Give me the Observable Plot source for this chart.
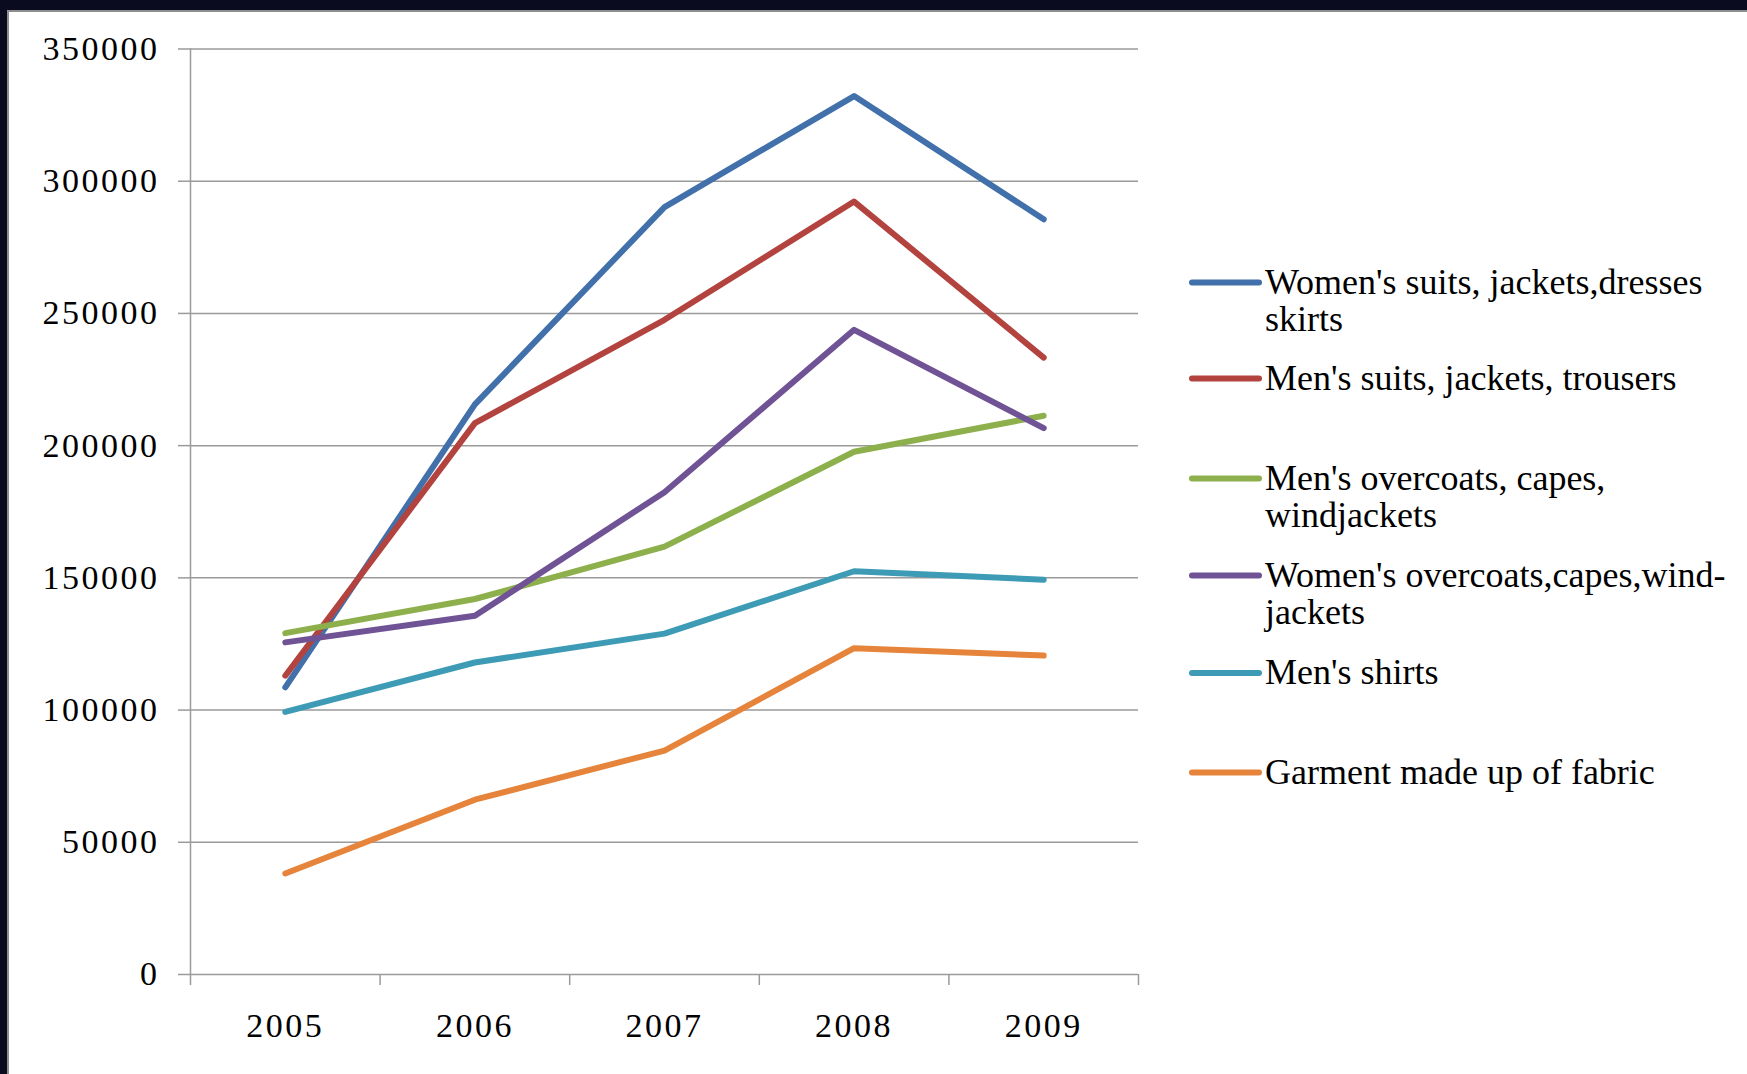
<!DOCTYPE html>
<html>
<head>
<meta charset="utf-8">
<script src="https://cdn.jsdelivr.net/npm/d3@7"></script>
<script src="https://cdn.jsdelivr.net/npm/@observablehq/plot@0.6"></script>
<style>
  html, body { margin: 0; padding: 0; }
  body {
    width: 1747px; height: 1074px; overflow: hidden; position: relative;
    background: #0b0b1f;
  }
  #panel {
    position: absolute; left: 7px; top: 10px; right: 0; bottom: 0;
    background: #fff;
    border-top: 2px solid #8e8e8e; border-left: 2px solid #8e8e8e;
  }
  #chart, #legend { position: absolute; left: 0; top: 0; }
  #chart svg text { letter-spacing: 2.5px; }
</style>
</head>
<body>
<div id="panel"></div>
<div id="chart"></div>
<svg id="legend" width="1747" height="1074"></svg>
<script>
// Years on the category axis
const years = [2005, 2006, 2007, 2008, 2009];

// Series names (legend wording, "\n" marks the wrap)
const seriesNames = [
  "Women's suits, jackets,dresses\nskirts",
  "Men's suits, jackets, trousers",
  "Men's overcoats, capes,\nwindjackets",
  "Women's overcoats,capes,wind-\njackets",
  "Men's shirts",
  "Garment made up of fabric"
];

// Values per series, one per year
const womensSuits     = [108600, 215600, 290200, 332200, 285600];
const mensSuits       = [113000, 208500, 247600, 292300, 233300];
const mensOvercoats   = [129100, 142000, 161800, 197700, 211300];
const womensOvercoats = [125600, 135700, 182400, 243800, 206600];
const mensShirts      = [ 99300, 118000, 128900, 152500, 149300];
const garments        = [ 38200,  66100,  84700, 123400, 120600];

const seriesValues = [womensSuits, mensSuits, mensOvercoats, womensOvercoats, mensShirts, garments];
const seriesColors = ["#4170ab", "#b3433f", "#8db04c", "#6f5395", "#3d9bb5", "#e5843a"];

// Value axis ticks
const yTicks = [0, 50000, 100000, 150000, 200000, 250000, 300000, 350000];

// Long-format rows for Plot
const rows = seriesNames.flatMap((name, i) =>
  years.map((year, j) => ({series: name, year, value: seriesValues[i][j]}))
);

// Category boundaries (tick marks sit between the years)
const boundaries = [years[0] - 0.5, ...years.map(y => y + 0.5)];

const gridColor = "#9a9a9a";

const chart = Plot.plot({
  width: 1160,
  height: 1074,
  marginLeft: 190,
  marginRight: 22,
  marginTop: 48.5,
  marginBottom: 100,
  x: {domain: [boundaries[0], boundaries[boundaries.length - 1]]},
  y: {domain: [0, 350000]},
  color: {domain: seriesNames, range: seriesColors},
  style: {
    fontFamily: "'Liberation Serif', serif",
    fontSize: "34px",
    color: "#000",
    background: "transparent",
    overflow: "visible"
  },
  marks: [
    Plot.gridY(yTicks, {stroke: gridColor, strokeOpacity: 1, strokeWidth: 1.5}),
    Plot.axisY(yTicks, {
      tickSize: 12, tickPadding: 19, stroke: gridColor, strokeWidth: 1.5,
      tickFormat: d => String(d), label: null
    }),
    Plot.ruleX([boundaries[0]], {stroke: gridColor, strokeWidth: 1.5}),
    Plot.axisX(boundaries, {
      tickSize: 11, stroke: gridColor, strokeWidth: 1.5,
      tickFormat: () => "", label: null
    }),
    Plot.axisX(years, {
      tickSize: 0, tickPadding: 38, tickFormat: d => String(d), label: null
    }),
    Plot.line(rows, {
      x: "year", y: "value", z: "series", stroke: "series",
      strokeWidth: 6, strokeLinecap: "round", strokeLinejoin: "round"
    })
  ]
});
document.getElementById("chart").appendChild(chart);

// Legend: swatch line plus wrapped label for each series
const legendBaselines = [293.5, 389.5, 489.5, 586.5, 684, 783.5];
const legendLineHeight = 37;
const legend = d3.select("#legend");
const entries = legend.selectAll("g")
  .data(seriesNames)
  .join("g")
  .attr("transform", (d, i) => `translate(0,${legendBaselines[i]})`);

entries.append("line")
  .attr("x1", 1192).attr("x2", 1259)
  .attr("y1", -11).attr("y2", -11)
  .attr("stroke", (d, i) => seriesColors[i])
  .attr("stroke-width", 6)
  .attr("stroke-linecap", "round");

entries.append("text")
  .attr("x", 1265)
  .attr("font-family", "'Liberation Serif', serif")
  .attr("font-size", 36)
  .attr("fill", "#000")
  .selectAll("tspan")
  .data(d => d.split("\n"))
  .join("tspan")
  .attr("x", 1265)
  .attr("y", (d, k) => k * legendLineHeight)
  .text(d => d);
</script>
</body>
</html>
